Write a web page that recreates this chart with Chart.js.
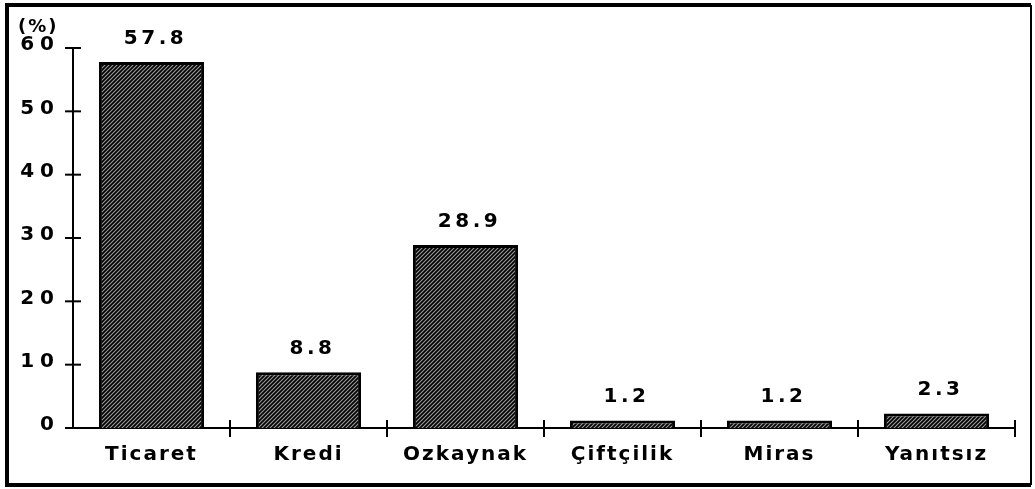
<!DOCTYPE html>
<html>
<head>
<meta charset="utf-8">
<script src="https://cdn.jsdelivr.net/npm/chart.js@4.4.1/dist/chart.umd.min.js"></script>
<style>
  html, body { margin: 0; padding: 0; background: #fff; }
  #wrap { width: 1035px; height: 489px; position: relative; }
</style>
</head>
<body>
<div id="wrap"><canvas id="chart" width="1035" height="489"></canvas></div>
<script>
// chart data
const categories = ["Ticaret", "Kredi", "Ozkaynak", "Çiftçilik", "Miras", "Yanıtsız"];
const shares = [57.8, 8.8, 28.9, 1.2, 1.2, 2.3];
const yTicks = [0, 10, 20, 30, 40, 50, 60];
const unitLabel = "(%)";

const FONT = "'DejaVu Sans', Verdana, sans-serif";

// diagonal hatch like the old printout
function makeHatch() {
  const c = document.createElement("canvas");
  c.width = 4; c.height = 4;
  const g = c.getContext("2d");
  g.fillStyle = "#9a9a9a";
  g.fillRect(0, 0, 4, 4);
  g.strokeStyle = "#000";
  g.lineWidth = 1.7;
  g.beginPath();
  g.moveTo(-1, 5); g.lineTo(5, -1);
  g.moveTo(-1, 1); g.lineTo(1, -1);
  g.moveTo(3, 5); g.lineTo(5, 3);
  g.stroke();
  return g.createPattern(c, "repeat");
}

// spaced-out lettering for an axis (optionally nudged up a bit)
function spaceLabels(scale, px, dy) {
  if (scale._spaced) return;
  scale._spaced = true;
  const orig = scale.drawLabels;
  scale.drawLabels = function (area) {
    this.ctx.save();
    this.ctx.letterSpacing = px;
    this.ctx.translate(0, dy || 0);
    orig.call(this, area);
    this.ctx.restore();
  };
}

// frame, cross ticks, value labels, unit label
const decor = {
  id: "decor",
  afterDraw(chart) {
    const ctx = chart.ctx;
    const x = chart.scales.x, y = chart.scales.y;
    ctx.save();
    ctx.strokeStyle = "#000";
    ctx.lineWidth = 2;
    // y ticks crossing the axis
    yTicks.forEach(v => {
      const py = y.getPixelForValue(v);
      ctx.beginPath();
      ctx.moveTo(x.left - 8, py);
      ctx.lineTo(x.left + 8, py);
      ctx.stroke();
    });
    // x ticks at category boundaries
    for (let i = 1; i <= categories.length; i++) {
      const px = x.getPixelForValue(i - 0.5);
      ctx.beginPath();
      ctx.moveTo(px, y.bottom - 8);
      ctx.lineTo(px, y.bottom + 9);
      ctx.stroke();
    }
    // value labels
    ctx.fillStyle = "#000";
    ctx.font = "bold 20px " + FONT;
    ctx.letterSpacing = "3.5px";
    ctx.textAlign = "center";
    ctx.textBaseline = "alphabetic";
    chart.getDatasetMeta(0).data.forEach((bar, i) => {
      ctx.fillText(String(shares[i]), bar.x + 4, bar.y - 18);
    });
    // unit label
    ctx.textAlign = "left";
    ctx.font = "bold 18px " + FONT;
    ctx.letterSpacing = "2px";
    ctx.fillText(unitLabel, 18, 32);
    // frame
    ctx.letterSpacing = "0px";
    ctx.lineWidth = 4;
    ctx.beginPath();
    ctx.moveTo(1031, 5); ctx.lineTo(7, 5); ctx.lineTo(7, 485); ctx.lineTo(1031, 485);
    ctx.stroke();
    ctx.lineWidth = 2;
    ctx.beginPath();
    ctx.moveTo(1031, 5); ctx.lineTo(1031, 485);
    ctx.stroke();
    ctx.restore();
  }
};

const ctx = document.getElementById("chart").getContext("2d");
new Chart(ctx, {
  type: "bar",
  data: {
    labels: categories,
    datasets: [{
      data: shares,
      backgroundColor: makeHatch(),
      borderColor: "#000",
      borderWidth: 3,
      barPercentage: 0.67,
      categoryPercentage: 1
    }]
  },
  options: {
    responsive: false,
    animation: false,
    layout: { padding: { top: 48, right: 20, left: 10, bottom: 0 } },
    plugins: {
      legend: { display: false },
      tooltip: { enabled: false }
    },
    scales: {
      x: {
        offset: true,
        grid: { display: false },
        border: { display: true, color: "#000", width: 2 },
        ticks: {
          color: "#000",
          padding: 7,
          font: { family: FONT, size: 20, weight: "bold" }
        },
        afterFit: s => { s.height = 61; spaceLabels(s, "2px", 0); }
      },
      y: {
        min: 0,
        max: 60,
        grid: { display: false },
        border: { display: true, color: "#000", width: 2 },
        afterBuildTicks: s => { s.ticks = yTicks.map(v => ({ value: v })); },
        ticks: {
          color: "#000",
          padding: 5,
          font: { family: FONT, size: 20, weight: "bold" }
        },
        afterFit: s => { s.width = 63; spaceLabels(s, "6px", -3); }
      }
    }
  },
  plugins: [decor]
});
</script>
</body>
</html>
